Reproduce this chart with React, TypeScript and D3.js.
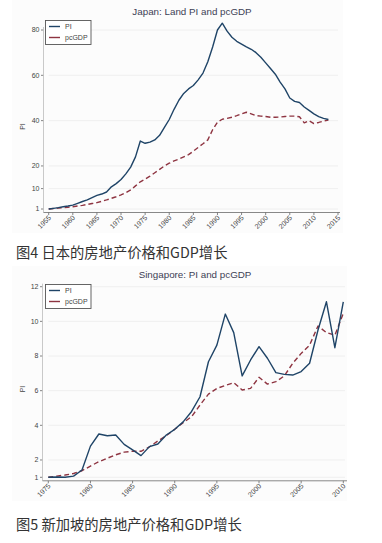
import React from "react";
import * as d3 from "d3";

const japanYears = d3.range(1955, 2014);
const japanPI = [
  1.0, 1.3, 1.6, 2.0, 2.3, 2.7, 3.5, 4.3, 5.0, 6.0,
  7.0, 7.6, 8.5, 10.8, 12.2, 14.0, 16.5, 19.5, 24.0, 31.0,
  30.0, 30.5, 31.5, 33.5, 37.0, 40.5, 45.0, 49.0, 52.0, 54.0,
  55.5, 58.0, 61.0, 66.0, 72.5, 80.0, 83.0, 79.5, 76.8, 75.0,
  73.8, 72.6, 71.5, 70.0, 68.0, 65.5, 63.0, 60.5, 57.0, 54.0,
  50.0, 48.5, 48.0, 46.0, 44.5, 43.0, 41.8, 41.0, 40.5,
];
const japanGDP = [
  1.0, 1.2, 1.4, 1.6, 1.8, 2.0, 2.3, 2.6, 3.0, 3.4,
  3.8, 4.4, 5.0, 5.7, 6.4, 7.2, 8.2, 9.4, 11.2, 13.0,
  14.2, 15.5, 17.0, 18.5, 20.0, 21.2, 22.2, 23.0, 24.0, 25.0,
  26.5, 28.2, 29.8, 31.5, 36.0, 39.3, 40.6, 41.0, 41.5, 42.2,
  43.0, 43.7, 43.0, 42.2, 42.0, 41.8, 41.5, 41.5, 41.6, 41.8,
  42.0, 42.0, 41.7, 39.0, 40.0, 38.7, 39.2, 39.8, 40.3,
];
const japanXTicks = d3.range(1955, 2016, 5);
const japanYTicks = [1, 10, 20, 40, 60, 80];

const sgYears = d3.range(1975, 2011);
const sgPI = [
  1.0, 1.02, 1.0, 1.07, 1.42, 2.8, 3.5, 3.4, 3.44, 2.9,
  2.58, 2.25, 2.77, 2.92, 3.44, 3.77, 4.2, 4.8, 5.65, 7.67,
  8.63, 10.42, 9.35, 6.85, 7.77, 8.54, 7.87, 7.04, 6.94, 6.9,
  7.1, 7.58, 9.5, 11.13, 8.48, 11.13,
];
const sgGDP = [
  1.0, 1.07, 1.13, 1.22, 1.38, 1.65, 1.9, 2.1, 2.3, 2.45,
  2.5, 2.5, 2.75, 3.1, 3.4, 3.77, 4.15, 4.5, 5.17, 5.8,
  6.13, 6.3, 6.46, 6.04, 6.13, 6.77, 6.38, 6.52, 6.85, 7.58,
  8.15, 8.63, 9.73, 9.35, 9.2, 10.46,
];
const sgXTicks = d3.range(1975, 2011, 5);
const sgYTicks = [1, 2, 4, 6, 8, 10, 12];

const seriesNames = ["PI", "pcGDP"];
const NAVY = "#1f4467";
const MAROON = "#8e3441";
const FONT = "Arial, 'Liberation Sans', sans-serif";

type PanelProps = {
  title: string;
  years: number[];
  pi: number[];
  gdp: number[];
  xDomain: [number, number];
  xRange: [number, number];
  yDomain: [number, number];
  yRange: [number, number];
  xTicks: number[];
  yTicks: number[];
  axisLeft: number;
  axisRight: number;
  bg: [number, number, number, number];
  titleY: number;
  titleX: number;
  legendY: number;
};

function Panel(p: PanelProps) {
  const x = d3.scaleLinear().domain(p.xDomain).range(p.xRange);
  const y = d3.scaleLinear().domain(p.yDomain).range(p.yRange);
  const axisY = p.yRange[0] + 3.5;
  const line = d3
    .line<number>()
    .x((_, i) => x(p.years[i]))
    .y((d) => y(d));
  const top = y(p.yTicks[p.yTicks.length - 1]);
  return (
    <g>
      <rect x={p.bg[0]} y={p.bg[1]} width={p.bg[2]} height={p.bg[3]} fill="#fcfcfc" />
      <text x={p.titleX} y={p.titleY} textAnchor="middle" fontSize={9.8} fill="#3d3f55" fontFamily={FONT}>
        {p.title}
      </text>
      {p.yTicks.map((t) => (
        <g key={"g" + t}>
          <line x1={p.xRange[0]} x2={p.axisRight - 2} y1={y(t)} y2={y(t)} stroke="#ececec" strokeWidth={0.8} />
          <line x1={p.axisLeft - 2.5} x2={p.axisLeft} y1={y(t)} y2={y(t)} stroke="#666" strokeWidth={0.8} />
          <text x={p.axisLeft - 4} y={y(t)} dy="0.35em" textAnchor="end" fontSize={7} fill="#444" fontFamily={FONT}>
            {t}
          </text>
        </g>
      ))}
      <line x1={p.axisLeft} x2={p.axisLeft} y1={top - 3} y2={axisY} stroke="#bbb" strokeWidth={0.8} />
      <line x1={p.axisLeft} x2={p.axisRight} y1={axisY} y2={axisY} stroke="#888" strokeWidth={1} />
      {p.xTicks.map((t) => (
        <g key={"x" + t}>
          <line x1={x(t)} x2={x(t)} y1={axisY} y2={axisY + 2.5} stroke="#666" strokeWidth={0.8} />
          <text
            transform={`translate(${x(t) + 1},${axisY + 4}) rotate(-45)`}
            textAnchor="end"
            dy="0.35em"
            fontSize={7}
            fill="#444"
            fontFamily={FONT}
          >
            {t}
          </text>
        </g>
      ))}
      <text
        transform={`translate(25,${(p.yRange[0] + top) / 2 + 7}) rotate(-90)`}
        textAnchor="middle"
        fontSize={7}
        fill="#444"
        fontFamily={FONT}
      >
        PI
      </text>
      <path d={line(p.gdp) || ""} fill="none" stroke={MAROON} strokeWidth={1.4} strokeDasharray="5,3" strokeLinejoin="round" />
      <path d={line(p.pi) || ""} fill="none" stroke={NAVY} strokeWidth={1.4} strokeLinejoin="round" />
      <g>
        <rect x={45.5} y={p.legendY} width={45.5} height={24} fill="#fff" stroke="#555" strokeWidth={0.9} />
        {seriesNames.map((s, i) => (
          <g key={s}>
            <line
              x1={49}
              x2={60}
              y1={p.legendY + 6 + i * 11}
              y2={p.legendY + 6 + i * 11}
              stroke={i === 0 ? NAVY : MAROON}
              strokeWidth={1.4}
            />
            <text x={65} y={p.legendY + 6 + i * 11} dy="0.35em" fontSize={7} fill="#444" fontFamily={FONT}>
              {s}
            </text>
          </g>
        ))}
      </g>
    </g>
  );
}

export default function App() {
  return (
    <svg
      width={382}
      height={543}
      style={{ position: "absolute", left: 0, top: 0, background: "#fff" }}
    >
      <Panel
        title="Japan: Land PI and pcGDP"
        years={japanYears}
        pi={japanPI}
        gdp={japanGDP}
        xDomain={[1955, 2015]}
        xRange={[48.7, 338]}
        yDomain={[1, 80]}
        yRange={[209, 30]}
        xTicks={japanXTicks}
        yTicks={japanYTicks}
        axisLeft={43.5}
        axisRight={340}
        bg={[12, 0, 331, 233]}
        titleX={192}
        titleY={15}
        legendY={20.5}
      />
      <text x={16} y={258} fontSize={14.3} fill="#333" fontFamily="'Noto Sans CJK SC', sans-serif">
        图4 日本的房地产价格和GDP增长
      </text>
      <Panel
        title="Singapore: PI and pcGDP"
        years={sgYears}
        pi={sgPI}
        gdp={sgGDP}
        xDomain={[1975, 2010]}
        xRange={[48.3, 343.3]}
        yDomain={[1, 12]}
        yRange={[477.3, 286.7]}
        xTicks={sgXTicks}
        yTicks={sgYTicks}
        axisLeft={42.5}
        axisRight={347}
        bg={[12, 266, 335, 235]}
        titleX={195}
        titleY={278}
        legendY={284.5}
      />
      <text x={16} y={530} fontSize={14.3} fill="#333" fontFamily="'Noto Sans CJK SC', sans-serif">
        图5 新加坡的房地产价格和GDP增长
      </text>
    </svg>
  );
}
